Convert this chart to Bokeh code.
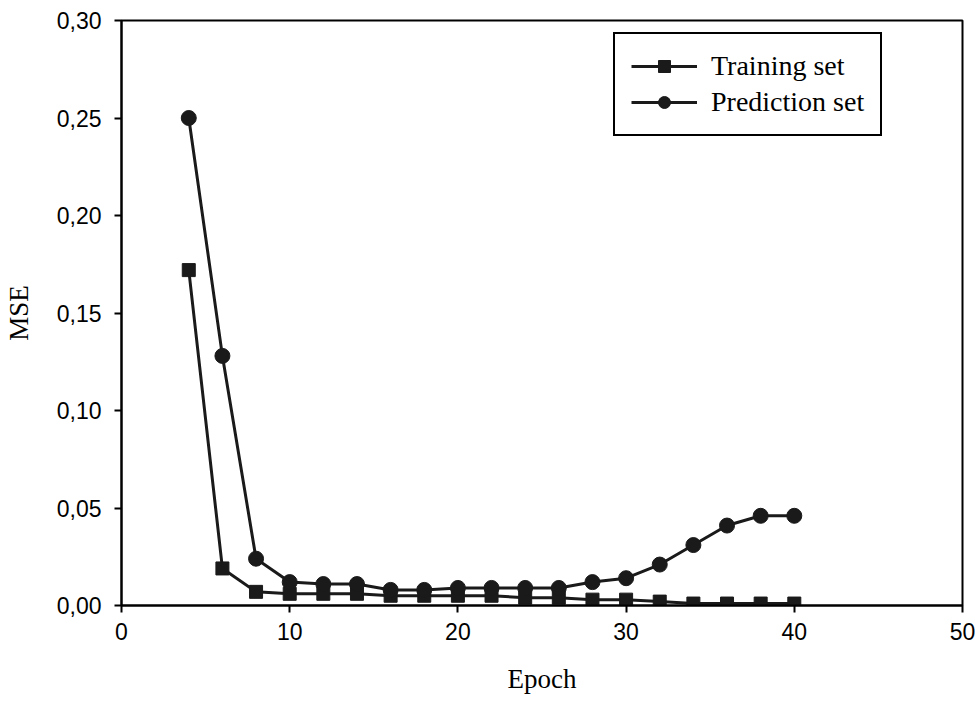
from bokeh.plotting import figure
from bokeh.models import Range1d, FixedTicker, CustomJSTickFormatter, Legend, LegendItem
from bokeh.embed import file_html
from bokeh.resources import INLINE

epochs = [4, 6, 8, 10, 12, 14, 16, 18, 20, 22, 24, 26, 28, 30, 32, 34, 36, 38, 40]
training = [0.172, 0.019, 0.007, 0.006, 0.006, 0.006, 0.005, 0.005, 0.005, 0.005,
            0.004, 0.004, 0.003, 0.003, 0.002, 0.001, 0.001, 0.001, 0.001]
prediction = [0.250, 0.128, 0.024, 0.012, 0.011, 0.011, 0.008, 0.008, 0.009, 0.009,
              0.009, 0.009, 0.012, 0.014, 0.021, 0.031, 0.041, 0.046, 0.046]
x_ticks = [0, 10, 20, 30, 40, 50]
y_ticks = [0.0, 0.05, 0.10, 0.15, 0.20, 0.25, 0.30]

p = figure(width=975, height=701, output_backend="svg", toolbar_location=None,
           x_range=Range1d(0, 50), y_range=Range1d(0, 0.30))
p.min_border_left = 121
p.min_border_right = 13
p.min_border_top = 20
p.min_border_bottom = 96
p.background_fill_color = "white"
p.border_fill_color = "white"
p.outline_line_color = "black"
p.outline_line_alpha = 1
p.outline_line_width = 2
p.xgrid.visible = False
p.ygrid.visible = False

for ax in (p.xaxis[0], p.yaxis[0]):
    ax.axis_line_width = 2
    ax.axis_line_color = "black"
    ax.major_tick_line_width = 2
    ax.major_tick_out = 7
    ax.major_tick_in = 0
    ax.minor_tick_line_color = None
    ax.major_label_text_font = "Liberation Sans"
    ax.major_label_text_font_size = "23px"
    ax.major_label_text_color = "black"
    ax.axis_label_text_font = "Liberation Serif"
    ax.axis_label_text_font_size = "27px"
    ax.axis_label_text_font_style = "normal"
    ax.axis_label_text_color = "black"

p.xaxis.ticker = FixedTicker(ticks=x_ticks)
p.yaxis.ticker = FixedTicker(ticks=y_ticks)
p.yaxis.formatter = CustomJSTickFormatter(code="return tick.toFixed(2).replace('.', ',');")
p.xaxis.axis_label = "Epoch"
p.yaxis.axis_label = "MSE"
p.xaxis.major_label_standoff = 10
p.yaxis.major_label_standoff = 13
p.xaxis.axis_label_standoff = 21
p.yaxis.axis_label_standoff = 20

l1 = p.line(epochs, training, line_color="#1a1a1a", line_width=3)
m1 = p.scatter(epochs, training, marker="square", size=13, fill_color="#1a1a1a", line_color="#1a1a1a")
l2 = p.line(epochs, prediction, line_color="#1a1a1a", line_width=3)
m2 = p.scatter(epochs, prediction, marker="circle", size=15, fill_color="#1a1a1a", line_color="#1a1a1a")

legend = Legend(items=[LegendItem(label="Training set", renderers=[l1, m1]),
                       LegendItem(label="Prediction set", renderers=[l2, m2])],
                location=(492, 469))
legend.label_text_font = "Liberation Serif"
legend.label_text_font_size = "28px"
legend.label_text_color = "black"
legend.border_line_color = "black"
legend.border_line_alpha = 1
legend.border_line_width = 2
legend.glyph_width = 66
legend.glyph_height = 30
legend.label_height = 30
legend.spacing = 4
legend.padding = 16
legend.margin = 0
legend.label_standoff = 14
legend.background_fill_alpha = 1
p.add_layout(legend, "center")

open("out.html", "w").write(file_html(p, INLINE))
